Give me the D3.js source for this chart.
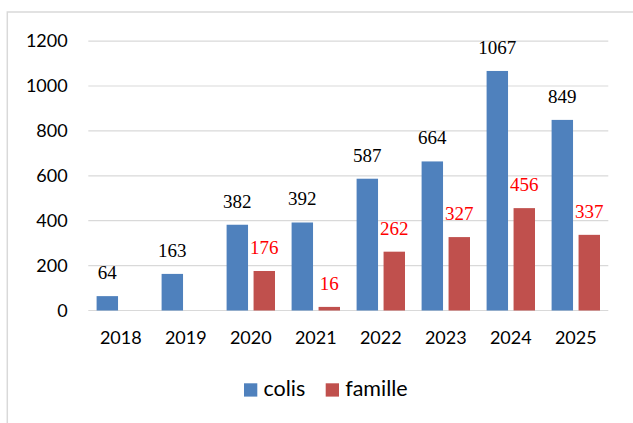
<!DOCTYPE html>
<html><head><meta charset="utf-8">
<script src="https://cdn.jsdelivr.net/npm/d3@7"></script>
<style>body{margin:0;background:#fff}svg{display:block}</style>
</head><body>
<script>
const years = ["2018","2019","2020","2021","2022","2023","2024","2025"];
const colis = [64,163,382,392,587,664,1067,849];
const famille = [null,null,176,16,262,327,456,337];
const yTicks = [0,200,400,600,800,1000,1200];
const seriesNames = ["colis","famille"];
const colors = ["#4F81BD","#C0504D"];
const labelColors = ["#000000","#FF0000"];

const SANS = "Lato, 'Open Sans', sans-serif";
const SERIF = "'Liberation Serif', 'Times New Roman', Times, 'DejaVu Serif', 'Noto Serif', serif";

const W = 633, H = 423;
const svg = d3.select("body").append("svg").attr("width",W).attr("height",H);

// outer chart border
svg.append("rect").attr("x",7.3).attr("y",12).attr("width",700).attr("height",500)
  .attr("fill","none").attr("stroke","#d9d9d9").attr("stroke-width",1.5);

const x0 = 88.3, x1 = 608.3;
const y = d3.scaleLinear().domain([0,1200]).range([310.5,41.1]);
const x = d3.scaleBand().domain(years).range([x0,x1]).paddingInner(0).paddingOuter(0);
const inner = d3.scaleBand().domain(seriesNames).range([8.3, x.bandwidth()-8.3]).paddingInner(0.205);

// gridlines
svg.append("g").selectAll("line").data(yTicks).join("line")
  .attr("x1",x0).attr("x2",x1).attr("y1",d=>y(d)).attr("y2",d=>y(d))
  .attr("stroke","#d9d9d9").attr("stroke-width",1.2);

// y tick labels
svg.append("g").selectAll("text").data(yTicks).join("text")
  .style("font-family",SANS)
  .attr("x",67.7).attr("y",d=>y(d)).attr("dy","0.35em").attr("text-anchor","end")
  .attr("font-size",18).attr("fill","#000")
  .text(d=>d);

// x tick labels
svg.append("g").selectAll("text").data(years).join("text")
  .style("font-family",SANS)
  .attr("x",d=>x(d)+x.bandwidth()/2).attr("y",344.3).attr("text-anchor","middle")
  .attr("font-size",18).attr("fill","#000")
  .text(d=>d);

const data = [colis, famille];
data.forEach((vals,si)=>{
  const g = svg.append("g");
  const pts = years.map((yr,i)=>({yr, v: vals[i]})).filter(d=>d.v!=null);
  g.selectAll("rect").data(pts).join("rect")
    .attr("x",d=>x(d.yr)+inner(seriesNames[si]))
    .attr("width",inner.bandwidth())
    .attr("y",d=>y(d.v)).attr("height",d=>y(0)-y(d.v))
    .attr("fill",colors[si]);
  g.selectAll("text").data(pts).join("text")
    .style("font-family",SERIF)
    .attr("x",d=>x(d.yr)+inner(seriesNames[si])+inner.bandwidth()/2)
    .attr("y",d=>y(d.v)-17).attr("text-anchor","middle")
    .attr("font-size",19)
    .attr("fill",labelColors[si]).text(d=>d.v);
});

// legend
const leg = svg.append("g");
const legX = [244, 325.7];
seriesNames.forEach((n,i)=>{
  leg.append("rect").attr("x",legX[i]).attr("y",383.3).attr("width",13.3).attr("height",13.3).attr("fill",colors[i]);
  leg.append("text").style("font-family",SANS).attr("x",legX[i]+19.5).attr("y",396)
    .attr("font-size",21.5).attr("fill","#000").text(n);
});
</script>
</body></html>
